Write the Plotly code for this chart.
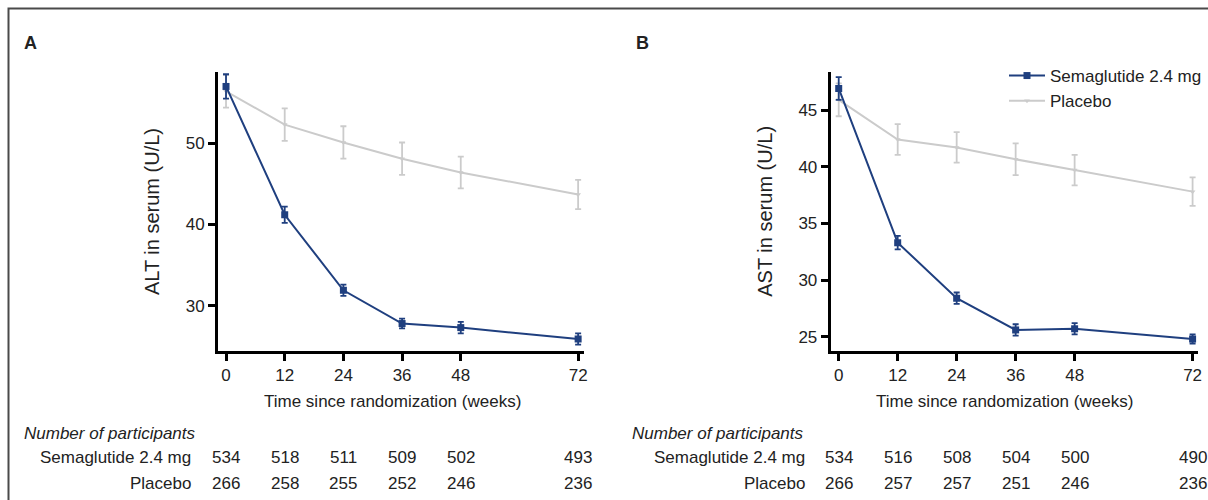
import plotly.graph_objects as go

weeks = [0, 12, 24, 36, 48, 72]
week_ticks = ["0", "12", "24", "36", "48", "72"]

# Panel A: ALT (U/L)
alt_sema = [57.0, 41.2, 31.9, 27.8, 27.3, 25.9]
alt_sema_err = [1.5, 1.0, 0.7, 0.6, 0.7, 0.7]
alt_plac = [56.4, 52.3, 50.1, 48.1, 46.4, 43.7]
alt_plac_err = [2.0, 2.0, 2.0, 2.0, 1.95, 1.8]
alt_yticks = [30, 40, 50]

# Panel B: AST (U/L)
ast_sema = [46.9, 33.3, 28.4, 25.6, 25.7, 24.8]
ast_sema_err = [1.0, 0.6, 0.5, 0.5, 0.5, 0.4]
ast_plac = [45.9, 42.4, 41.7, 40.65, 39.7, 37.8]
ast_plac_err = [1.45, 1.35, 1.35, 1.4, 1.35, 1.25]
ast_yticks = [25, 30, 35, 40, 45]

# Number of participants
n_alt_sema = [534, 518, 511, 509, 502, 493]
n_alt_plac = [266, 258, 255, 252, 246, 236]
n_ast_sema = [534, 516, 508, 504, 500, 490]
n_ast_plac = [266, 257, 257, 251, 246, 236]

SEMA_NAME = "Semaglutide 2.4 mg"
PLAC_NAME = "Placebo"
BLUE = "#1f3f7f"
GRAY = "#cbcbcb"
TXT = "#222222"
FONT = "Liberation Sans, Arial, Helvetica, sans-serif"

W, H = 1208, 500
def px(x):
    return x / W
def py(y):
    return 1 - y / H

fig = go.Figure()

def add_panel(xa, ya, sema, sema_err, plac, plac_err, show_legend):
    fig.add_trace(go.Scatter(
        x=weeks, y=plac, name=PLAC_NAME, mode="lines+markers",
        xaxis=xa, yaxis=ya, showlegend=show_legend, legendgroup="p", legendrank=2,
        line=dict(color=GRAY, width=2),
        marker=dict(symbol="triangle-down", size=5, color=GRAY),
        error_y=dict(type="data", array=plac_err, visible=True, color=GRAY, thickness=1.8, width=3),
    ))
    fig.add_trace(go.Scatter(
        x=weeks, y=sema, name=SEMA_NAME, mode="lines+markers",
        xaxis=xa, yaxis=ya, showlegend=show_legend, legendgroup="s", legendrank=1,
        line=dict(color=BLUE, width=2),
        marker=dict(symbol="square", size=7, color=BLUE),
        error_y=dict(type="data", array=sema_err, visible=True, color=BLUE, thickness=1.8, width=3),
    ))

add_panel("x", "y", alt_sema, alt_sema_err, alt_plac, alt_plac_err, False)
add_panel("x2", "y2", ast_sema, ast_sema_err, ast_plac, ast_plac_err, True)

axis_common = dict(
    showline=True, linewidth=3, linecolor="black", showgrid=False, zeroline=False,
    ticks="outside", ticklen=7, tickwidth=2.5, tickcolor="black",
    tickfont=dict(family=FONT, size=17, color=TXT), automargin=False,
)

fig.update_layout(
    width=W, height=H, margin=dict(l=0, r=0, t=0, b=0),
    paper_bgcolor="white", plot_bgcolor="white",
    font=dict(family=FONT, size=17, color=TXT),
    showlegend=True,
    legend=dict(x=px(1004), y=py(58), xanchor="left", yanchor="top",
                font=dict(family=FONT, size=17, color=TXT), bgcolor="rgba(0,0,0,0)",
                tracegroupgap=0, itemwidth=36),
    xaxis=dict(domain=[px(218), px(584)], range=[-1.64, 73.2], tickvals=weeks, ticktext=week_ticks,
               anchor="y", **axis_common),
    yaxis=dict(domain=[py(351), py(72)], range=[24.42, 58.78], tickvals=alt_yticks,
               anchor="x", title=dict(text="ALT in serum (U/L)", font=dict(family=FONT, size=20, color=TXT), standoff=21),
               **axis_common),
    xaxis2=dict(domain=[px(830.7), px(1198)], range=[-1.63, 73.1], tickvals=weeks, ticktext=week_ticks,
                anchor="y2", **axis_common),
    yaxis2=dict(domain=[py(351), py(71.7)], range=[23.74, 48.38], tickvals=ast_yticks,
                anchor="x2", title=dict(text="AST in serum (U/L)", font=dict(family=FONT, size=20, color=TXT), standoff=21),
                **axis_common),
)

ann = []
# Panel letters
ann.append(dict(text="<b>A</b>", x=px(22), y=py(43), xref="paper", yref="paper",
                xanchor="left", yanchor="middle", showarrow=False, font=dict(size=18, color=TXT)))
ann.append(dict(text="<b>B</b>", x=px(634), y=py(43), xref="paper", yref="paper",
                xanchor="left", yanchor="middle", showarrow=False, font=dict(size=18, color=TXT)))
# X-axis titles
for cx in (392, 1004):
    ann.append(dict(text="Time since randomization (weeks)", x=px(cx), y=py(401.5), xref="paper", yref="paper",
                    xanchor="center", yanchor="middle", showarrow=False, font=dict(size=17, color=TXT)))
# Participant table
for xa, left, right, ns, npl in (("x", 22, 193, n_alt_sema, n_alt_plac), ("x2", 630, 807, n_ast_sema, n_ast_plac)):
    ann.append(dict(text="<i>Number of participants</i>", x=px(left), y=py(433), xref="paper", yref="paper",
                    xanchor="left", yanchor="middle", showarrow=False, font=dict(size=17, color=TXT)))
    ann.append(dict(text=SEMA_NAME, x=px(right), y=py(457), xref="paper", yref="paper",
                    xanchor="right", yanchor="middle", showarrow=False, font=dict(size=17, color=TXT)))
    ann.append(dict(text=PLAC_NAME, x=px(right), y=py(483), xref="paper", yref="paper",
                    xanchor="right", yanchor="middle", showarrow=False, font=dict(size=17, color=TXT)))
    for wk, a, b in zip(weeks, ns, npl):
        ann.append(dict(text=str(a), x=wk, y=py(457), xref=xa, yref="paper",
                        xanchor="center", yanchor="middle", showarrow=False, font=dict(size=17, color=TXT)))
        ann.append(dict(text=str(b), x=wk, y=py(483), xref=xa, yref="paper",
                        xanchor="center", yanchor="middle", showarrow=False, font=dict(size=17, color=TXT)))
fig.update_layout(annotations=ann)

# Outer frame
fig.add_shape(type="rect", xref="paper", yref="paper", x0=px(8.5), y0=-0.1, x1=1.1, y1=py(8.5),
              line=dict(color="#4a4a4a", width=2), fillcolor="rgba(0,0,0,0)", layer="below")

fig.write_html(
    "out.html",
    config={"displayModeBar": False},
    post_script="document.body.style.margin='0';document.body.style.padding='0';document.body.style.overflow='hidden';",
)
